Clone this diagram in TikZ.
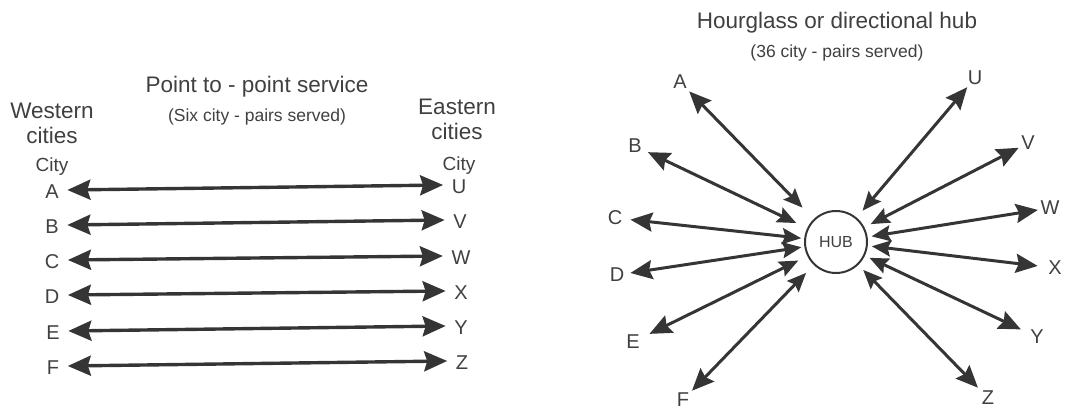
\documentclass[tikz,border=0pt]{standalone}
\usepackage{fontspec}
\setmainfont{Liberation Sans}
\usetikzlibrary{arrows.meta}
\definecolor{ink}{HTML}{353535}
\definecolor{txt}{HTML}{404040}
\begin{document}
\begin{tikzpicture}[x=1pt,y=-1pt,
  letter/.style={text=txt, inner sep=2pt, font=\fontsize{20}{24}\selectfont},
  rowletter/.style={text=txt, inner xsep=8.5pt, inner ysep=1pt, font=\fontsize{20}{24}\selectfont},
  ttl/.style={text=txt, font=\fontsize{22.5}{25}\selectfont, align=center, inner sep=0pt},
  subttl/.style={text=txt, font=\fontsize{17.5}{20}\selectfont, inner sep=0pt},
  citylbl/.style={text=txt, font=\fontsize{19}{22}\selectfont, inner sep=0pt},
  pair/.style={draw=ink, line width=3.4pt,
    {Stealth[length=23pt,width=20pt,inset=3pt]}-{Stealth[length=23pt,width=20pt,inset=3pt]}},
  spoke/.style={draw=ink, line width=3pt,
    {Stealth[length=22pt,width=19pt,inset=3pt]}-{Stealth[length=19pt,width=16pt,inset=3pt]}},
]
\useasboundingbox (0,0) rectangle (1065,419);

% ---------- Left panel: point to point ----------
\node[ttl] (ptitle) at (257,87) {Point to - point service};
\node[subttl] (psub) at (257,117) {(Six city - pairs served)};
\node[ttl] (west) at (52,123) {Western\\cities};
\node[ttl] (east) at (457,119) {Eastern\\cities};
\node[citylbl] (wcity) at (52,167) {City};
\node[citylbl] (ecity) at (459,166) {City};

\node[rowletter] (lA) at (52,192) {A};
\node[rowletter] (lB) at (52,227) {B};
\node[rowletter] (lC) at (52,262) {C};
\node[rowletter] (lD) at (52,297) {D};
\node[rowletter] (lE) at (53,333) {E};
\node[rowletter] (lF) at (53,368) {F};
\node[rowletter] (rU) at (459,187) {U};
\node[rowletter] (rV) at (460,222) {V};
\node[rowletter] (rW) at (461,258) {W};
\node[rowletter] (rX) at (461,293) {X};
\node[rowletter] (rY) at (461,328) {Y};
\node[rowletter] (rZ) at (462,363) {Z};

\draw[pair] ([yshift=2pt]lA.east) -- ([yshift=2pt]rU.west);
\draw[pair] ([yshift=2pt]lB.east) -- ([yshift=2pt]rV.west);
\draw[pair] ([yshift=2pt]lC.east) -- ([yshift=2pt]rW.west);
\draw[pair] ([yshift=2pt]lD.east) -- ([yshift=2pt]rX.west);
\draw[pair] ([yshift=2pt]lE.east) -- ([yshift=2pt]rY.west);
\draw[pair] ([yshift=2pt]lF.east) -- ([yshift=2pt]rZ.west);

% ---------- Right panel: hub ----------
\node[ttl] (htitle) at (837,23) {Hourglass or directional hub};
\node[subttl] (hsub) at (837,53) {(36 city - pairs served)};
\node[draw=ink, circle, line width=2pt, minimum size=62pt, inner sep=0pt,
      text=txt, font=\fontsize{16}{18}\selectfont] (hub) at (836,242) {HUB};

\node[letter] (hA) at (680,82) {A};
\node[letter] (hB) at (635,146) {B};
\node[letter] (hC) at (615,218) {C};
\node[letter] (hD) at (617,275) {D};
\node[letter] (hE) at (633,342) {E};
\node[letter] (hF) at (683,400) {F};
\node[letter] (hU) at (975,78) {U};
\node[letter] (hV) at (1028,143) {V};
\node[letter] (hW) at (1050,208) {W};
\node[letter] (hX) at (1055,268) {X};
\node[letter] (hY) at (1037,337) {Y};
\node[letter] (hZ) at (988,398) {Z};

\draw[spoke, shorten <=0.5pt, shorten >=16pt] (hA) -- (hub);
\draw[spoke, shorten <=4.5pt, shorten >=12pt] (hB) -- (hub);
\draw[spoke, shorten <=6pt,   shorten >=3pt]  (hC) -- (hub);
\draw[spoke, shorten <=4pt,   shorten >=3pt]  (hD) -- (hub);
\draw[spoke, shorten <=8.5pt, shorten >=10pt] (hE) -- (hub);
\draw[spoke, shorten <=1pt,   shorten >=11pt] (hF) -- (hub);
\draw[spoke, shorten <=0pt,   shorten >=9pt]  (hU) -- (hub);
\draw[spoke, shorten <=0.5pt, shorten >=7pt]  (hV) -- (hub);
\draw[spoke, shorten <=0.5pt, shorten >=4pt]  (hW) -- (hub);
\draw[spoke, shorten <=8.5pt, shorten >=4pt]  (hX) -- (hub);
\draw[spoke, shorten <=8pt,   shorten >=5pt]  (hY) -- (hub);
\draw[spoke, shorten <=2.5pt, shorten >=7pt]  (hZ) -- (hub);
\end{tikzpicture}
\end{document}
